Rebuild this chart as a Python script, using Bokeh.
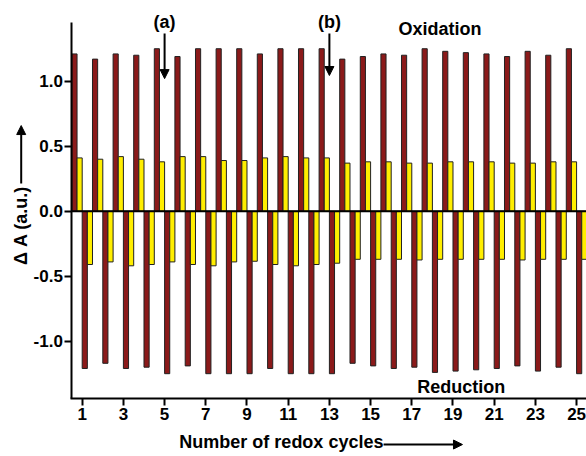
from math import pi
from bokeh.plotting import figure
from bokeh.models import (Range1d, Label, Arrow, NormalHead, ColumnDataSource,
                          PrintfTickFormatter)
from bokeh.transform import dodge
from bokeh.embed import file_html
from bokeh.resources import INLINE

# ---- data ----
cycles = list(range(1, 26))
ox_red = [1.21, 1.17, 1.21, 1.20, 1.25, 1.19, 1.25, 1.25, 1.25, 1.21, 1.25, 1.25, 1.25,
          1.17, 1.19, 1.21, 1.20, 1.25, 1.23, 1.22, 1.21, 1.19, 1.23, 1.20, 1.25]
ox_yellow = [0.41, 0.40, 0.42, 0.40, 0.38, 0.42, 0.42, 0.39, 0.39, 0.41, 0.42, 0.41, 0.41,
             0.37, 0.38, 0.38, 0.37, 0.37, 0.38, 0.38, 0.38, 0.37, 0.37, 0.38, 0.38]
red_red = [-1.21, -1.17, -1.21, -1.20, -1.25, -1.19, -1.25, -1.25, -1.25, -1.21, -1.25, -1.25, -1.25,
           -1.17, -1.19, -1.21, -1.20, -1.24, -1.23, -1.22, -1.21, -1.19, -1.23, -1.20, -1.25]
red_yellow = [-0.41, -0.39, -0.42, -0.41, -0.39, -0.41, -0.42, -0.39, -0.385, -0.41, -0.42, -0.41, -0.40,
              -0.37, -0.37, -0.37, -0.375, -0.37, -0.37, -0.37, -0.37, -0.375, -0.37, -0.37, -0.37]
x_ticks = [1, 3, 5, 7, 9, 11, 13, 15, 17, 19, 21, 23, 25]
y_ticks = [-1.0, -0.5, 0.0, 0.5, 1.0]

RED = "#8B1A1A"
YEL = "#FFEE00"
EDGE = "#222222"
FONT = "Liberation Sans"
TICK_FS = "17px"
LAB_FS = "18px"

X0, X1 = -2.966, 25.481      # visible x extent (frame = whole canvas)
Y0, Y1 = -1.887, 1.621       # visible y extent
AX_X = 0.5                   # where the y axis sits
AX_Y = -1.441                # where the x axis sits
Y_TOP = 1.45                 # top of the y axis line

src = ColumnDataSource(dict(cycle=cycles, ox_red=ox_red, ox_yellow=ox_yellow,
                            red_red=red_red, red_yellow=red_yellow))

p = figure(width=586, height=456, x_range=Range1d(X0, X1), y_range=Range1d(Y0, Y1),
           output_backend="svg", toolbar_location=None,
           min_border_left=0, min_border_right=0, min_border_top=0, min_border_bottom=0)
p.outline_line_color = None
p.xgrid.grid_line_color = None
p.ygrid.grid_line_color = None

w = 0.25
p.vbar(x=dodge("cycle", -0.375, range=p.x_range), top="ox_red", bottom=0, width=w, source=src,
       fill_color=RED, line_color=EDGE, line_width=1)
p.vbar(x=dodge("cycle", -0.125, range=p.x_range), top="ox_yellow", bottom=0, width=w, source=src,
       fill_color=YEL, line_color=EDGE, line_width=1)
p.vbar(x=dodge("cycle", 0.125, range=p.x_range), top=0, bottom="red_red", width=w, source=src,
       fill_color=RED, line_color=EDGE, line_width=1)
p.vbar(x=dodge("cycle", 0.375, range=p.x_range), top=0, bottom="red_yellow", width=w, source=src,
       fill_color=YEL, line_color=EDGE, line_width=1)

# zero line
p.segment(x0=[AX_X], y0=[0], x1=[X1], y1=[0], line_color="black", line_width=2)

for ax in (p.xaxis[0], p.yaxis[0]):
    ax.axis_line_width = 2
    ax.axis_line_color = "black"
    ax.major_tick_line_width = 2
    ax.major_tick_out = 7
    ax.major_tick_in = 0
    ax.minor_tick_out = 0
    ax.minor_tick_in = 0
    ax.major_label_text_font = FONT
    ax.major_label_text_font_style = "bold"
    ax.major_label_text_font_size = TICK_FS
    ax.major_label_text_color = "black"
    ax.major_label_standoff = 2

p.xaxis.ticker = x_ticks
p.yaxis.ticker = y_ticks
p.yaxis.formatter = PrintfTickFormatter(format="%.1f")
p.yaxis.fixed_location = AX_X
p.xaxis.fixed_location = AX_Y
p.yaxis.bounds = (AX_Y, Y_TOP)
p.xaxis.bounds = (AX_X - 0.05, X1)


def lab(x, y, t, angle=0.0):
    p.add_layout(Label(x=x, y=y, text=t, angle=angle, text_align="center", text_baseline="middle",
                       text_font=FONT, text_font_style="bold", text_font_size=LAB_FS,
                       text_color="black"))


def arr(x0, y0, x1, y1):
    p.add_layout(Arrow(end=NormalHead(size=9, fill_color="black", line_color="black"),
                       x_start=x0, y_start=y0, x_end=x1, y_end=y1,
                       line_color="black", line_width=2))


lab(5, 1.459, "(a)")
arr(5, 1.367, 5, 1.02)
lab(13, 1.459, "(b)")
arr(13, 1.367, 13, 1.044)
lab(18.37, 1.405, "Oxidation")
lab(19.4, -1.35, "Reduction")

# y label with upward arrow
lab(-1.961, -0.11, "\u0394 A (a.u.)", angle=pi / 2)
arr(-1.961, 0.213, -1.961, 0.659)

# x label with rightward arrow
lab(10.67, -1.776, "Number of redox cycles")
arr(15.63, -1.795, 19.46, -1.795)

open("out.html", "w").write(file_html(p, INLINE))
